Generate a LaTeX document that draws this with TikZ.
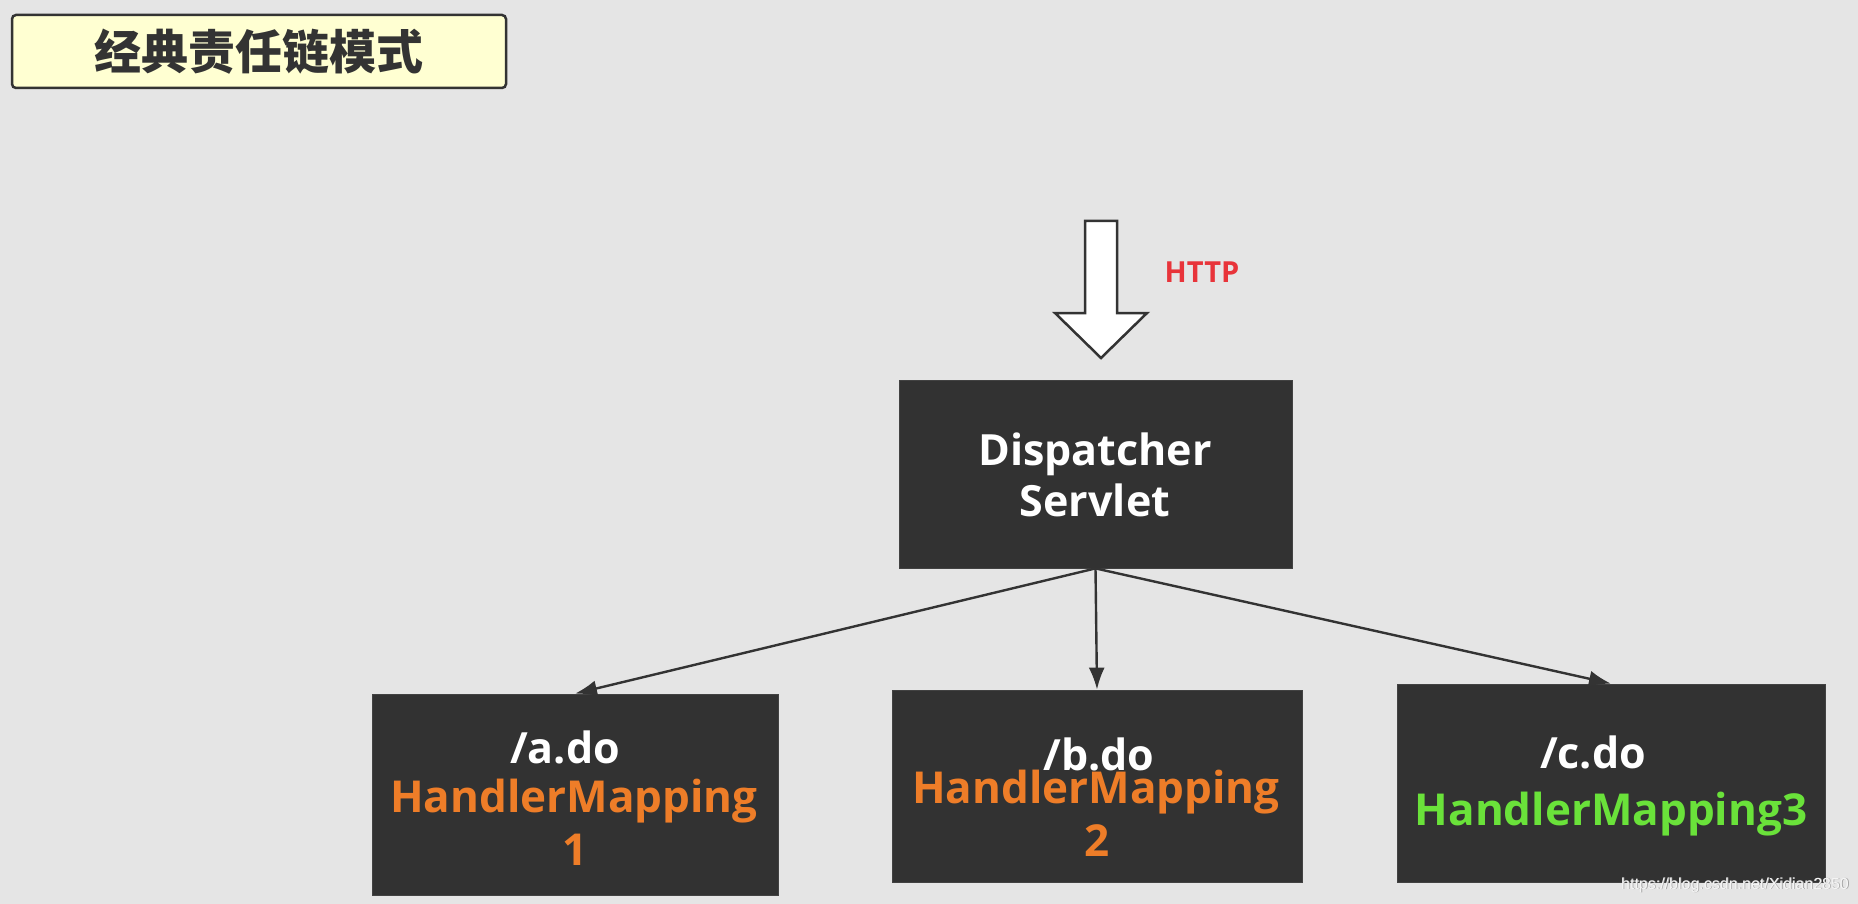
\documentclass[tikz,border=0pt]{standalone}
\usepackage{fontspec}
\setmainfont{Open Sans}
\newfontfamily\cjk{Noto Sans CJK SC}
\newfontfamily\wmfont{Liberation Sans}
\usetikzlibrary{arrows.meta}
\definecolor{bg}{HTML}{E5E5E5}
\definecolor{boxfill}{HTML}{323232}
\definecolor{edge}{HTML}{333333}
\definecolor{orangetxt}{HTML}{EE7D28}
\definecolor{greentxt}{HTML}{6AE23A}
\definecolor{redtxt}{HTML}{E8343A}
\definecolor{titlefill}{HTML}{FFFFD2}
\tikzset{
  darkbox/.style={draw=edge!80!gray, fill=boxfill, line width=0.8pt, inner sep=0pt},
  whitetxt/.style={text=white, font=\fontsize{43}{48}\selectfont\bfseries, anchor=base, inner sep=0pt},
  orangeline/.style={text=orangetxt, font=\fontsize{44}{48}\selectfont\bfseries, anchor=base, inner sep=0pt},
  greenline/.style={text=greentxt, font=\fontsize{44}{48}\selectfont\bfseries, anchor=base, inner sep=0pt},
  conn/.style={draw=edge, line width=2.4pt, -{Latex[length=22pt, width=16pt]}},
}
\begin{document}
\begin{tikzpicture}[x=1pt, y=-1pt]
\fill[bg] (0,0) rectangle (1858,904);
\useasboundingbox (0,0) rectangle (1858,904);
% title
\node[draw=edge, line width=2.5pt, fill=titlefill, rounded corners=4pt,
      minimum width=494pt, minimum height=73pt, inner sep=0pt,
      font=\cjk\fontsize{47}{50}\selectfont\bfseries, text=edge] (title) at (259,51.5) {经典责任链模式};
% HTTP arrow
\draw[fill=white, draw=edge, line width=2.5pt, line join=miter]
  (1085,221) -- (1117,221) -- (1117,313) -- (1147,313) -- (1101,358) -- (1055,313) -- (1085,313) -- cycle;
\node[text=redtxt, font=\fontsize{29}{32}\selectfont\bfseries, inner sep=0pt] (http) at (1202,272) {HTTP};
% boxes
\node[darkbox, minimum width=393pt, minimum height=188pt] (ds) at (1095.5,474) {};
\node[whitetxt] (dsl1) at (1095,465) {Dispatcher};
\node[whitetxt] (dsl2) at (1095,516) {Servlet};

\node[darkbox, minimum width=406pt, minimum height=201pt] (a) at (575,794.5) {};
\node[whitetxt] (al1) at (565,763) {/a.do};
\node[orangeline] (al2) at (574,812) {HandlerMapping};
\node[orangeline] (al3) at (575,865) {1};

\node[darkbox, minimum width=410pt, minimum height=192pt] (b) at (1097,786) {};
\node[whitetxt] (bl1) at (1099,770) {/b.do};
\node[orangeline] (bl2) at (1096,803) {HandlerMapping};
\node[orangeline] (bl3) at (1097,856) {2};

\node[darkbox, minimum width=428pt, minimum height=198pt] (c) at (1611,783) {};
\node[whitetxt] (cl1) at (1593,768) {/c.do};
\node[greenline] (cl2) at (1611,825) {HandlerMapping3};

% connectors
\draw[conn] (ds.south) -- (a.north);
\draw[conn] (ds.south) -- (b.north);
\draw[conn] (ds.south) -- (c.north);

% watermark
\node[text=gray!70, font=\wmfont\fontsize{16}{18}\selectfont, inner sep=0pt] (wms) at (1735.8,885.8) {https://blog.csdn.net/Xidian2850};
\node[text=white!92!gray, font=\wmfont\fontsize{16}{18}\selectfont, inner sep=0pt] (wm) at (1735,885) {https://blog.csdn.net/Xidian2850};
\end{tikzpicture}
\end{document}
